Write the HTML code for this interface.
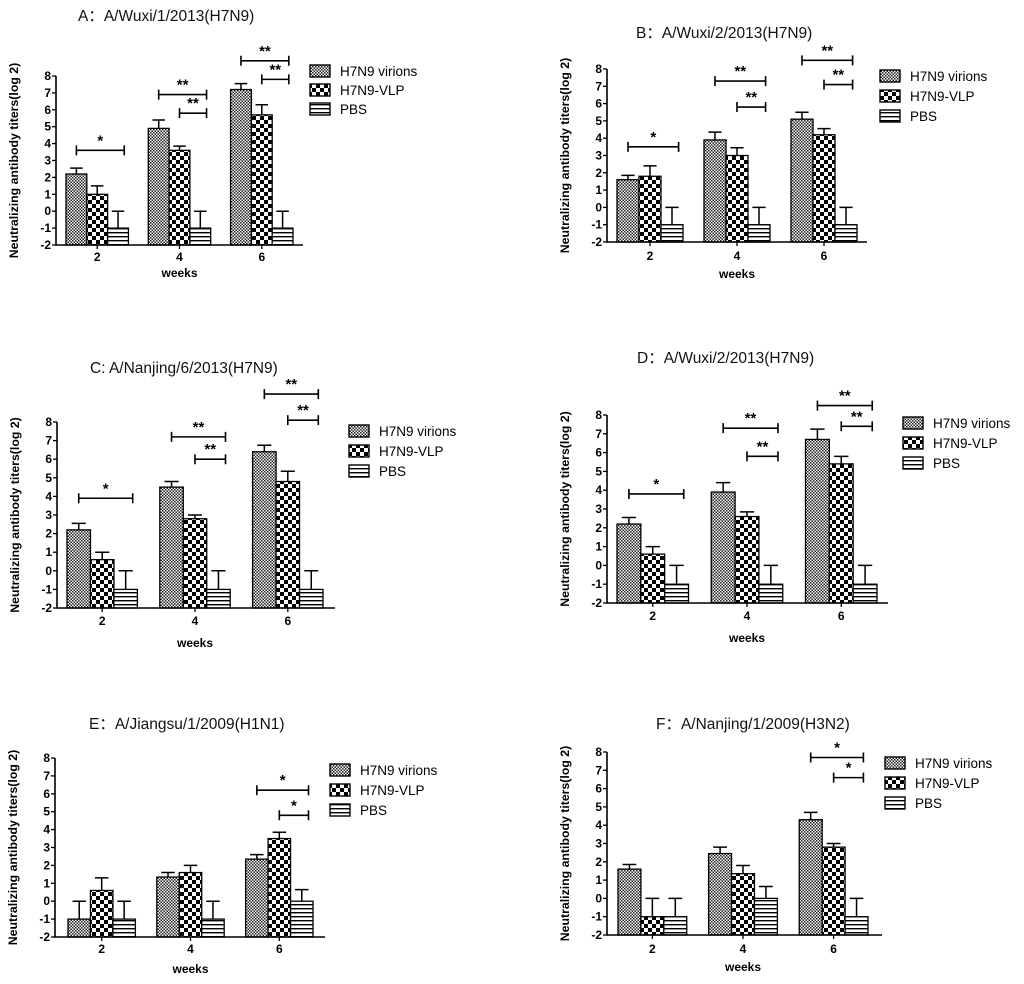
<!DOCTYPE html>
<html><head><meta charset="utf-8"><style>
html,body{margin:0;padding:0;background:#fff;}
svg{display:block;font-family:"Liberation Sans",Arial,"Noto Sans CJK SC",sans-serif;}
</style></head><body>
<svg id="fig" width="1024" height="984" viewBox="0 0 1024 984">
<defs>
<pattern id="pv" width="3" height="3" patternUnits="userSpaceOnUse"><rect width="3" height="3" fill="#fff"/><rect width="1.5" height="1.5" fill="#222"/><rect x="1.5" y="1.5" width="1.5" height="1.5" fill="#222"/></pattern>
<pattern id="pl" width="8" height="8" patternUnits="userSpaceOnUse"><rect width="8" height="8" fill="#fff"/><rect width="4" height="4" fill="#000"/><rect x="4" y="4" width="4" height="4" fill="#000"/></pattern>
<pattern id="pp" width="4" height="4" patternUnits="userSpaceOnUse"><rect width="4" height="4" fill="#fff"/><rect y="0" width="4" height="1.4" fill="#000"/></pattern>
</defs>
</svg>
<script>
const categories = ["2","4","6"];
const yTicks = [-2,-1,0,1,2,3,4,5,6,7,8];
const seriesNames = ["H7N9 virions","H7N9-VLP","PBS"];
const titles = ["A：A/Wuxi/1/2013(H7N9)","B：A/Wuxi/2/2013(H7N9)","C:  A/Nanjing/6/2013(H7N9)","D：A/Wuxi/2/2013(H7N9)","E：A/Jiangsu/1/2009(H1N1)","F：A/Nanjing/1/2009(H3N2)"];
// means per panel
const aVirions=[2.2,4.9,7.2], aVLP=[1.0,3.6,5.7], aPBS=[-1,-1,-1];
const bVirions=[1.6,3.9,5.1], bVLP=[1.8,3.0,4.2], bPBS=[-1,-1,-1];
const cVirions=[2.2,4.5,6.4], cVLP=[0.6,2.8,4.8], cPBS=[-1,-1,-1];
const dVirions=[2.2,3.9,6.7], dVLP=[0.6,2.6,5.4], dPBS=[-1,-1,-1];
const eVirions=[-1,1.35,2.35], eVLP=[0.6,1.6,3.5], ePBS=[-1,-1,0];
const fVirions=[1.6,2.45,4.3], fVLP=[-1,1.35,2.8], fPBS=[-1,0,-1];
// error bars (upper)
const aErr=[[0.35,0.5,0.35],[0.5,0.25,0.6],[1,1,1]];
const bErr=[[0.25,0.45,0.4],[0.6,0.45,0.35],[1,1,1]];
const cErr=[[0.35,0.3,0.35],[0.4,0.2,0.55],[1,1,1]];
const dErr=[[0.35,0.5,0.55],[0.4,0.25,0.4],[1,1,1]];
const eErr=[[1,0.25,0.25],[0.7,0.4,0.35],[1,1,0.65]];
const fErr=[[0.25,0.35,0.4],[1,0.45,0.2],[1,0.65,1]];
// significance brackets: [group, fromSeries, yValue, label]
const aSig=[[0,0,3.6,"*"],[1,0,6.9,"**"],[1,1,5.8,"**"],[2,0,8.9,"**"],[2,1,7.8,"**"]];
const bSig=[[0,0,3.5,"*"],[1,0,7.3,"**"],[1,1,5.8,"**"],[2,0,8.5,"**"],[2,1,7.1,"**"]];
const cSig=[[0,0,3.9,"*"],[1,0,7.2,"**"],[1,1,6.0,"**"],[2,0,9.5,"**"],[2,1,8.1,"**"]];
const dSig=[[0,0,3.8,"*"],[1,0,7.3,"**"],[1,1,5.8,"**"],[2,0,8.5,"**"],[2,1,7.4,"**"]];
const eSig=[[2,0,6.2,"*"],[2,1,4.8,"*"]];
const fSig=[[2,0,7.7,"*"],[2,1,6.6,"*"]];

const panelData=[[aVirions,aVLP,aPBS],[bVirions,bVLP,bPBS],[cVirions,cVLP,cPBS],[dVirions,dVLP,dPBS],[eVirions,eVLP,ePBS],[fVirions,fVLP,fPBS]];
const panelErr=[aErr,bErr,cErr,dErr,eErr,fErr];
const panelSig=[aSig,bSig,cSig,dSig,eSig,fSig];

// layout geometry
const layout=[
 {ax:56,y8:76,y0:245,xe:303,g0:66,g1:293,lx:310,ly:71,lg:19,tx:78,ty:21,tky:261,wy:277},
 {ax:607,y8:69,y0:242,xe:867,g0:617,g1:857,lx:880,ly:76,lg:20,tx:636,ty:38,tky:260,wy:278},
 {ax:57,y8:422,y0:608,xe:335,g0:67,g1:323,lx:349,ly:431,lg:20,tx:90,ty:373,tky:625,wy:647},
 {ax:607,y8:415,y0:603,xe:888,g0:617,g1:877,lx:903,ly:423,lg:20,tx:637,ty:363,tky:620,wy:642},
 {ax:55,y8:758,y0:937,xe:325,g0:68,g1:313,lx:330,ly:770,lg:20,tx:89,ty:729,tky:953,wy:973},
 {ax:607,y8:752,y0:935,xe:882,g0:618,g1:868,lx:885,ly:763,lg:20,tx:656,ty:729,tky:953,wy:971}
];
const fills=["url(#pv)","url(#pl)","url(#pp)"];
const NS="http://www.w3.org/2000/svg";
const svg=document.getElementById("fig");
function mk(tag,attrs,parent,txt){const e=document.createElementNS(NS,tag);for(const k in attrs)e.setAttribute(k,attrs[k]);if(txt!==undefined)e.textContent=txt;parent.appendChild(e);return e;}

layout.forEach((L,p)=>{
  const g=mk("g",{},svg);
  
  
  const yS=v=>L.y0+(v-(-2))*(L.y8-L.y0)/10;
  const groupW=(L.g1-L.g0)*0.275;
  const bw=groupW/3;
  const barX=(i,s)=>L.g0+i*((L.g1-L.g0-groupW)/2)+s*bw;
  const cx=i=>L.g0+i*((L.g1-L.g0-groupW)/2)+groupW/2;
  const t=mk("text",{x:L.tx,y:L.ty,"font-size":15.5,fill:"#111"},g,titles[p]);
  
  
  panelData[p].forEach((ser,s)=>{
    ser.forEach((v,i)=>{
      const x=barX(i,s), yv=yS(v), yb=yS(-2);
      const r=mk("rect",{x:x,y:Math.min(yv,yb),width:bw,height:Math.abs(yb-yv),fill:fills[s],stroke:"#000","stroke-width":1.3},g);
      
      
      const e=panelErr[p][s][i];
      const xm=x+bw/2, ye=yS(v+e);
      const el=mk("path",{d:`M${xm},${yv}V${ye}M${xm-bw*0.3},${ye}H${xm+bw*0.3}`,stroke:"#000","stroke-width":1.5,fill:"none"},g);
      
      
    });
  });
  const ax=mk("path",{d:`M${L.ax},${L.y8}V${L.y0}H${L.xe}`,stroke:"#000","stroke-width":1.6,fill:"none"},g);
  
  
  yTicks.forEach(v=>{
    const y=yS(v);
    mk("line",{x1:L.ax-4,x2:L.ax,y1:y,y2:y,stroke:"#000","stroke-width":1.3},g);
    const tl=mk("text",{x:L.ax-5,y:y+4,"font-size":12,"font-weight":"bold","text-anchor":"end"},g,String(v));
    
    
  });
  categories.forEach((c,i)=>{
    const x=cx(i);
    mk("line",{x1:x,x2:x,y1:L.y0,y2:L.y0+4,stroke:"#000","stroke-width":1.3},g);
    const tl=mk("text",{x:x,y:L.tky,"font-size":12,"font-weight":"bold","text-anchor":"middle"},g,c);
    
    
  });
  const wx=mk("text",{x:(cx(0)+cx(2))/2,y:L.wy,"font-size":12,"font-weight":"bold","text-anchor":"middle"},g,"weeks");
  
  
  const ym=(L.y8+L.y0)/2, yx=L.ax-38;
  const yt=mk("text",{x:yx,y:ym,"font-size":12.3,"font-weight":"bold","text-anchor":"middle",transform:`rotate(-90 ${yx} ${ym})`},g,"Neutralizing antibody titers(log 2)");
  
  
  panelSig[p].forEach(sg=>{
    const [gi,fs,yv,lab]=sg;
    const x1=barX(gi,fs)+bw/2, x2=barX(gi,2)+bw*0.8, y=yS(yv);
    const br=mk("path",{d:`M${x1},${y-5}V${y+5}M${x1},${y}H${x2}M${x2},${y-5}V${y+5}`,stroke:"#000","stroke-width":1.6,fill:"none"},g);
    
    
    const st=mk("text",{x:(x1+x2)/2,y:y-5,"font-size":15,"font-weight":"bold","text-anchor":"middle"},g,lab);
    
    
  });
  seriesNames.forEach((n,s)=>{
    const y=L.ly+s*L.lg;
    const lr=mk("rect",{x:L.lx,y:y-6,width:20,height:12,fill:fills[s],stroke:"#000","stroke-width":1.4},g);
    
    
    const lt=mk("text",{x:L.lx+30,y:y+5,"font-size":13.5},g,n);
    
    
  });
});
</script>
</body></html>
